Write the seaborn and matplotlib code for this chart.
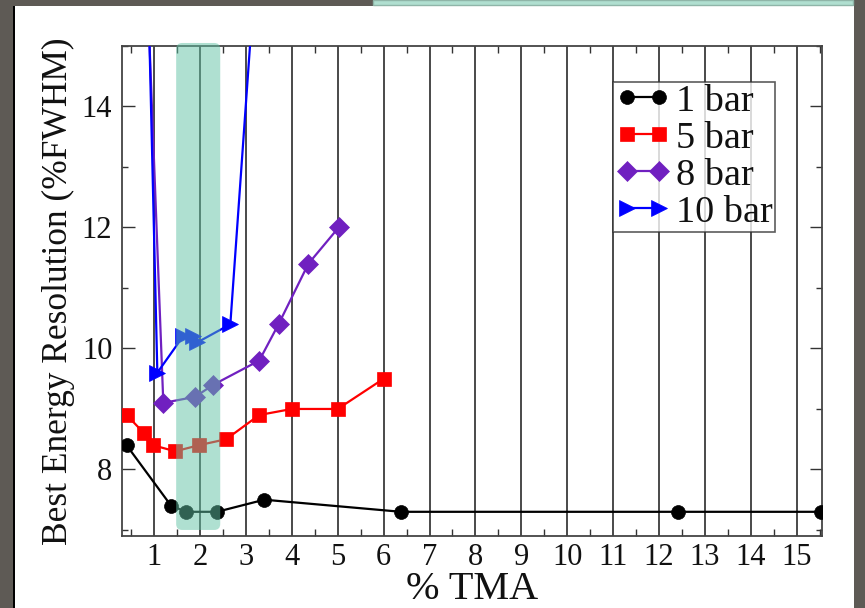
import numpy as np
import pandas as pd
import matplotlib
matplotlib.use("Agg")
import matplotlib.pyplot as plt
import seaborn as sns
from matplotlib.patches import FancyBboxPatch, Rectangle
from matplotlib.transforms import IdentityTransform
from matplotlib.ticker import MultipleLocator

sns.set_theme(style="ticks")
plt.rcParams['font.family'] = ['Liberation Serif', 'DejaVu Serif']

# data (points above 15 are off the top of the axes)
tma_1bar = [0.40, 1.37, 1.70, 2.37, 3.40, 6.38, 12.42, 15.52]
res_1bar = [8.4, 7.4, 7.3, 7.3, 7.5, 7.3, 7.3, 7.3]

tma_5bar = [0.40, 0.78, 0.98, 1.46, 1.97, 2.57, 3.29, 4.0, 5.0, 6.0]
res_5bar = [8.9, 8.6, 8.4, 8.3, 8.4, 8.5, 8.9, 9.0, 9.0, 9.5]

tma_8bar = [0.80, 1.20, 1.89, 2.29, 3.29, 3.71, 4.36, 5.02]
res_8bar = [17.0, 9.1, 9.2, 9.4, 9.8, 10.4, 11.4, 12.0]

tma_10bar = [0.80, 1.07, 1.63, 1.85, 1.94, 2.66, 3.20]
res_10bar = [18.2, 9.6, 10.2, 10.2, 10.1, 10.4, 16.2]

series = [
    ("1 bar", tma_1bar, res_1bar, "black", "o"),
    ("5 bar", tma_5bar, res_5bar, "#ff0000", "s"),
    ("8 bar", tma_8bar, res_8bar, "#7020c0", "D"),
    ("10 bar", tma_10bar, res_10bar, "#0000ff", ">"),
]

# highlighted TMA window
band_x = (1.48, 2.44)
band_y = (7.0, 15.05)

W, H = 865, 608
fig = plt.figure(figsize=(W / 100, H / 100), dpi=100, facecolor='#5e5a55')

# slide-like white page with teal box peeking at the top
fig.patches.append(Rectangle((15 / W, 0), (854 - 15) / W, 1 - 6 / H,
                             transform=fig.transFigure, facecolor='white',
                             edgecolor='none', zorder=-10))
fig.patches.append(Rectangle((13 / W, 0), 2 / W, 1 - 6 / H,
                             transform=fig.transFigure, facecolor='black',
                             edgecolor='none', zorder=-10))
fig.patches.append(Rectangle((373 / W, 1 - 5 / H), (853 - 373) / W, 5 / H,
                             transform=fig.transFigure, facecolor='#b0dfd0',
                             edgecolor='#8fb5a8', linewidth=1, zorder=-10))

ax = fig.add_axes([122 / W, 1 - 536 / H, 700 / W, 490 / H])
ax.set_facecolor('white')

for name, xs, ys, col, mk in series:
    df = pd.DataFrame({"TMA": xs, "res": ys})
    sns.lineplot(data=df, x="TMA", y="res", ax=ax, color=col, marker=mk,
                 markersize=10 if mk != ">" else 11, markeredgecolor=col,
                 markeredgewidth=0.5, linewidth=1.6, sort=False,
                 label=name, zorder=3)

ax.set_xlim(0.3, 15.55)
ax.set_ylim(6.9, 15.0)

ax.xaxis.set_major_locator(MultipleLocator(1))
ax.xaxis.set_minor_locator(MultipleLocator(0.5))
ax.yaxis.set_major_locator(MultipleLocator(2))
ax.yaxis.set_minor_locator(MultipleLocator(1))
ax.grid(axis='x', which='major', color='#2a2a2a', linewidth=1.2)
ax.grid(axis='y', visible=False)
ax.set_axisbelow(True)

ax.tick_params(which='both', direction='in', top=True, right=True,
               color='#333333', labelsize=22, labelcolor='#111111')
ax.tick_params(axis='x', which='major', length=0, pad=5)
ax.tick_params(axis='x', which='minor', length=5, width=1)
ax.tick_params(axis='y', which='major', length=9, width=1, pad=7)
ax.tick_params(axis='y', which='minor', length=4.5, width=1)
for sp in ax.spines.values():
    sp.set_color('#444444')
    sp.set_linewidth(1.3)

ax.set_xlabel("% TMA", fontsize=29, color='#111111', labelpad=-1)
ax.set_ylabel("Best Energy Resolution (%FWHM)", fontsize=25.5,
              color='#111111', labelpad=5)

leg = ax.legend(loc='upper right', bbox_to_anchor=(0.933, 0.9265),
                borderaxespad=0, fontsize=27.5, frameon=True,
                fancybox=False, numpoints=2, handlelength=1.45,
                handletextpad=0.15, labelspacing=0.06, borderpad=0.05)
leg.get_frame().set_edgecolor('#333333')
leg.get_frame().set_linewidth(1.2)
for t in leg.get_texts():
    t.set_color('#111111')

# translucent rounded band drawn on top of the markers
fig.canvas.draw()
(x0, y0) = ax.transData.transform((band_x[0], band_y[0]))
(x1, y1) = ax.transData.transform((band_x[1], band_y[1]))
band = FancyBboxPatch((x0, y0), x1 - x0, y1 - y0,
                      boxstyle="round,pad=0,rounding_size=6",
                      transform=IdentityTransform(), facecolor='#61c3a5',
                      edgecolor='none', alpha=0.5, zorder=5)
fig.patches.append(band)

fig.savefig("out.png", dpi=100, facecolor=fig.get_facecolor())
